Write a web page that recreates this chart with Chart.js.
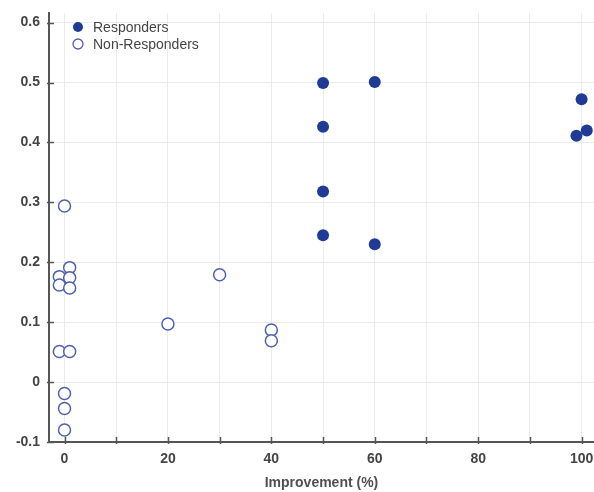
<!DOCTYPE html>
<html>
<head>
<meta charset="utf-8">
<script src="https://cdn.jsdelivr.net/npm/chart.js@4.4.1/dist/chart.umd.min.js"></script>
<style>
  html, body { margin: 0; padding: 0; background: #fff; }
  #wrap { width: 594px; height: 492px; }
</style>
</head>
<body>
<div id="wrap"><canvas id="chart"></canvas></div>
<script>
// data
const responderX = [50, 60, 50, 50, 50, 60, 100, 99, 101];
const responderY = [0.499, 0.501, 0.426, 0.318, 0.245, 0.230, 0.472, 0.411, 0.420];

const nonResponderX = [0, -1, 1, 1, -1, 1, 30, 20, -1, 1, 0, 0, 0, 40, 40];
const nonResponderY = [0.294, 0.176, 0.191, 0.174, 0.162, 0.157, 0.179, 0.097, 0.051, 0.051, -0.019, -0.044, -0.080, 0.087, 0.069];

const xTicks = [0, 10, 20, 30, 40, 50, 60, 70, 80, 90, 100];
const xLabels = [0, 20, 40, 60, 80, 100];
const yTicks = [-0.1, 0, 0.1, 0.2, 0.3, 0.4, 0.5, 0.6];

const FILL = '#1f3b96';
const RING = '#5060b0';
const AXIS = '#555555';
const TEXT = '#444444';
const FONT = 'Liberation Sans, Arial, sans-serif';

function toPoints(xs, ys) {
  return xs.map((x, i) => ({ x: x, y: ys[i] }));
}

// short tick marks drawn on the inner side of the axes
const innerTicks = {
  id: 'innerTicks',
  afterDraw(chart) {
    const ctx = chart.ctx;
    const xs = chart.scales.x, ys = chart.scales.y;
    ctx.save();
    ctx.strokeStyle = AXIS;
    ctx.lineWidth = 1.5;
    ctx.beginPath();
    xTicks.forEach(v => {
      const px = Math.round(xs.getPixelForValue(v)) + 0.5;
      ctx.moveTo(px, ys.bottom + 2);
      ctx.lineTo(px, ys.bottom - 5);
    });
    yTicks.forEach(v => {
      const py = Math.round(ys.getPixelForValue(v)) + 0.5;
      ctx.moveTo(xs.left - 2, py);
      ctx.lineTo(xs.left + 5, py);
    });
    ctx.stroke();
    ctx.restore();
  }
};

// legend in the top left corner of the plot
const cornerLegend = {
  id: 'cornerLegend',
  afterDraw(chart) {
    const ctx = chart.ctx;
    const area = chart.chartArea;
    ctx.save();
    ctx.font = '14px ' + FONT;
    ctx.textBaseline = 'middle';
    chart.data.datasets.forEach((ds, i) => {
      const cx = area.left + 29;
      const cy = area.top + 14 + i * 17;
      ctx.beginPath();
      ctx.arc(cx, cy, 5, 0, Math.PI * 2);
      if (ds.pointBackgroundColor !== '#ffffff') {
        ctx.fillStyle = ds.pointBackgroundColor;
        ctx.fill();
      } else {
        ctx.lineWidth = 1.3;
        ctx.strokeStyle = ds.pointBorderColor;
        ctx.stroke();
      }
      ctx.fillStyle = '#444444';
      ctx.fillText(ds.label, cx + 15, cy + 1);
    });
    ctx.restore();
  }
};

new Chart(document.getElementById('chart'), {
  type: 'scatter',
  data: {
    datasets: [
      {
        label: 'Responders',
        data: toPoints(responderX, responderY),
        pointRadius: 6,
        pointBackgroundColor: FILL,
        pointBorderColor: FILL,
        pointBorderWidth: 0
      },
      {
        label: 'Non-Responders',
        data: toPoints(nonResponderX, nonResponderY),
        pointRadius: 6,
        pointBackgroundColor: '#ffffff',
        pointBorderColor: RING,
        pointBorderWidth: 1.5
      }
    ]
  },
  plugins: [innerTicks, cornerLegend],
  options: {
    responsive: true,
    maintainAspectRatio: false,
    animation: false,
    layout: { autoPadding: false, padding: { top: 13, right: 0, left: 0, bottom: 0 } },
    plugins: {
      legend: { display: false },
      tooltip: { enabled: false }
    },
    scales: {
      x: {
        type: 'linear',
        min: -3,
        max: 102.4,
        afterBuildTicks: s => { s.ticks = xTicks.map(v => ({ value: v })); },
        afterFit: s => { s.height = 50; s.paddingLeft = 0; s.paddingRight = 0; },
        grid: { color: '#ececec', lineWidth: 1, drawTicks: false },
        border: { color: AXIS, width: 2 },
        ticks: {
          padding: 9,
          color: TEXT,
          font: { family: FONT, size: 14, weight: 'bold' },
          maxRotation: 0,
          autoSkip: false,
          callback: v => xLabels.includes(v) ? String(v) : ''
        },
        title: {
          display: true,
          text: 'Improvement (%)',
          color: '#505050',
          font: { family: FONT, size: 14, weight: 'bold' },
          padding: { top: 5, bottom: 0 }
        }
      },
      y: {
        type: 'linear',
        min: -0.1,
        max: 0.616,
        afterBuildTicks: s => { s.ticks = yTicks.map(v => ({ value: v })); },
        afterFit: s => { s.width = 49; s.paddingTop = 0; s.paddingBottom = 0; },
        grid: { color: '#ececec', lineWidth: 1, drawTicks: false },
        border: { color: AXIS, width: 2 },
        ticks: {
          padding: 9,
          color: TEXT,
          font: { family: FONT, size: 14, weight: 'bold' },
          autoSkip: false,
          callback: v => {
            const r = Math.round(v * 10) / 10;
            return r === 0 ? '0' : r.toFixed(1);
          }
        }
      }
    }
  }
});
</script>
</body>
</html>
